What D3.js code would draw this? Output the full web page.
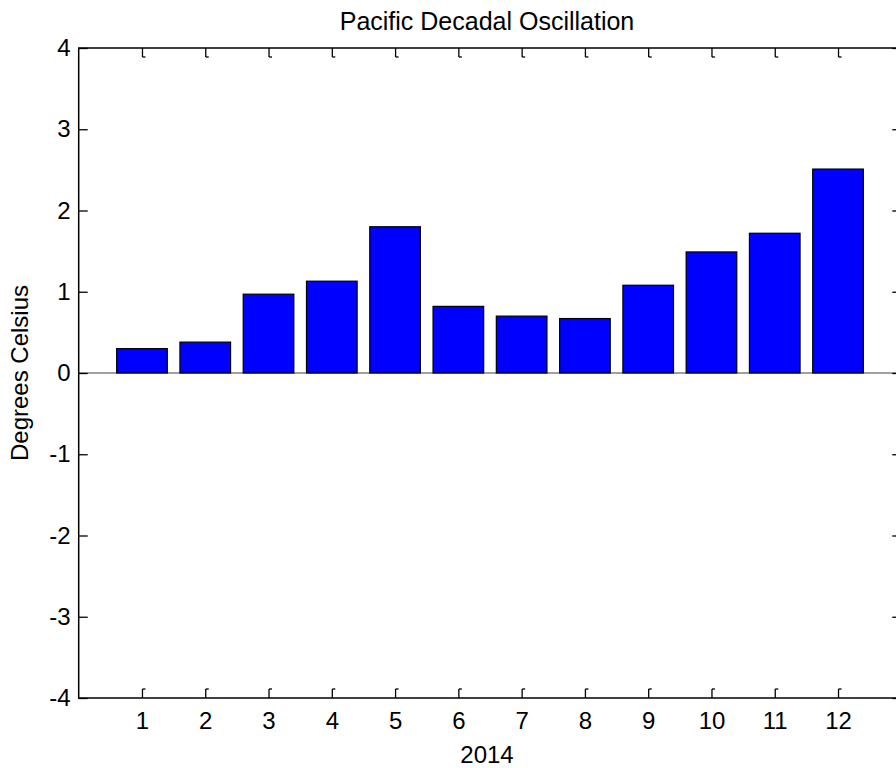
<!DOCTYPE html>
<html>
<head>
<meta charset="utf-8">
<script src="https://d3js.org/d3.v7.min.js"></script>
<style>
  body { margin: 0; background: #fff; }
  svg { display: block; }
  text { font-family: Arial, "Liberation Sans", sans-serif; fill: #000; }
</style>
</head>
<body>
<div id="chart"></div>
<script>
'use strict';

var months = [1, 2, 3, 4, 5, 6, 7, 8, 9, 10, 11, 12];
var pdo = [0.30, 0.38, 0.97, 1.13, 1.80, 0.82, 0.70, 0.67, 1.08, 1.49, 1.72, 2.51];
var yTicks = [-4, -3, -2, -1, 0, 1, 2, 3, 4];
var title = 'Pacific Decadal Oscillation';
var xLabel = '2014';
var yLabel = 'Degrees Celsius';

var width = 896;
var height = 768;
var margin = { left: 78.7, right: -5.3, top: 48, bottom: 70 };
var tickLen = 9;
var fontSize = 24;
var fontFamily = 'Arial, "Liberation Sans", sans-serif';

var svg = d3.select('#chart').append('svg').attr('width', width).attr('height', height);

var x = d3.scaleLinear().domain([0, 13]).range([margin.left, width - margin.right]);
var y = d3.scaleLinear().domain([-4, 4]).range([height - margin.bottom, margin.top]);

// zero baseline
svg.append('line')
  .attr('x1', x(0)).attr('x2', x(13))
  .attr('y1', y(0)).attr('y2', y(0))
  .attr('stroke', '#808080').attr('stroke-width', 1.5);

// bars
var barW = x(0.8) - x(0);
svg.selectAll('rect.bar').data(months).enter().append('rect')
  .attr('class', 'bar')
  .attr('x', function (d) { return x(d) - barW / 2; })
  .attr('width', barW)
  .attr('y', function (d, i) { return y(Math.max(0, pdo[i])); })
  .attr('height', function (d, i) { return Math.abs(y(pdo[i]) - y(0)); })
  .attr('fill', '#0000ff')
  .attr('stroke', '#000').attr('stroke-width', 1.2);

// axes box
var axisColor = '#000';
svg.append('rect')
  .attr('x', x(0)).attr('y', y(4))
  .attr('width', x(13) - x(0)).attr('height', y(-4) - y(4))
  .attr('fill', 'none').attr('stroke', axisColor).attr('stroke-width', 1.5);

// bottom axis, ticks pointing inward
var bottomAxis = svg.append('g').attr('transform', 'translate(0,' + y(-4) + ')')
  .call(d3.axisBottom(x).tickValues(months).tickSize(-tickLen).tickPadding(14));
bottomAxis.select('.domain').remove();
bottomAxis.selectAll('.tick line').attr('stroke', axisColor).attr('stroke-width', 1.3);
bottomAxis.selectAll('.tick').append('line')
  .attr('x1', 0).attr('x2', 3).attr('y1', -tickLen).attr('y2', -tickLen)
  .attr('stroke', axisColor).attr('stroke-width', 1.3);
bottomAxis.selectAll('.tick text').attr('font-size', fontSize).attr('font-family', fontFamily);

// top axis, ticks pointing inward
var topAxis = svg.append('g').attr('transform', 'translate(0,' + y(4) + ')')
  .call(d3.axisTop(x).tickValues(months).tickSize(-tickLen).tickFormat(''));
topAxis.select('.domain').remove();
topAxis.selectAll('.tick line').attr('stroke', axisColor).attr('stroke-width', 1.3);
topAxis.selectAll('.tick').append('line')
  .attr('x1', 0).attr('x2', 3).attr('y1', tickLen).attr('y2', tickLen)
  .attr('stroke', axisColor).attr('stroke-width', 1.3);

// left axis
var leftAxis = svg.append('g').attr('transform', 'translate(' + x(0) + ',0)')
  .call(d3.axisLeft(y).tickValues(yTicks).tickSize(-tickLen).tickPadding(8).tickFormat(d3.format('d')));
leftAxis.select('.domain').remove();
leftAxis.selectAll('.tick line').attr('stroke', axisColor).attr('stroke-width', 1.3);
leftAxis.selectAll('.tick text').attr('font-size', fontSize).attr('font-family', fontFamily)
  .text(function (d) { return d < 0 ? '-' + Math.abs(d) : d; });

// right axis
var rightAxis = svg.append('g').attr('transform', 'translate(' + x(13) + ',0)')
  .call(d3.axisRight(y).tickValues(yTicks).tickSize(-tickLen).tickFormat(''));
rightAxis.select('.domain').remove();
rightAxis.selectAll('.tick line').attr('stroke', axisColor).attr('stroke-width', 1.3);

// labels
svg.append('text')
  .attr('x', 487).attr('y', 30)
  .attr('text-anchor', 'middle').attr('font-size', 25)
  .text(title);

svg.append('text')
  .attr('x', 487).attr('y', 763)
  .attr('text-anchor', 'middle').attr('font-size', fontSize)
  .text(xLabel);

svg.append('text')
  .attr('transform', 'translate(28,' + y(0) + ') rotate(-90)')
  .attr('text-anchor', 'middle').attr('font-size', fontSize)
  .text(yLabel);
</script>
</body>
</html>
